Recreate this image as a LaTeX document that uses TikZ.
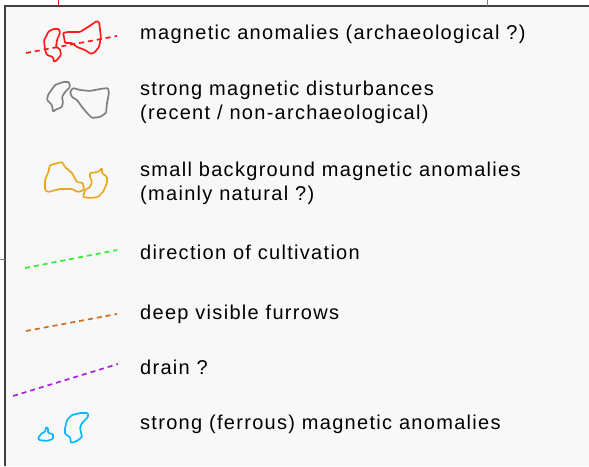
\documentclass[tikz,border=0pt]{standalone}
\usepackage{fontspec}
\setmainfont{Liberation Sans}[LetterSpace=6.5]
\tikzset{
  legtext/.style={anchor=base west, inner sep=0pt, font=\fontsize{20}{24}\selectfont, align=left},
  blob/.style={line width=1.7pt, line join=round, rounded corners=1pt},
  dashline/.style={line width=1.7pt, dash pattern=on 5pt off 4pt}
}
\definecolor{frame}{HTML}{404040}
\definecolor{panel}{HTML}{F8F8F8}
\definecolor{anomred}{HTML}{FF1A1A}
\definecolor{disturbgray}{HTML}{808080}
\definecolor{naturalorange}{HTML}{E8A820}
\definecolor{cultgreen}{HTML}{33EE33}
\definecolor{furrowbrown}{HTML}{CC6F22}
\definecolor{drainpurple}{HTML}{AA22DD}
\definecolor{ferrouscyan}{HTML}{00BBFF}
\begin{document}
\begin{tikzpicture}[x=1pt,y=-1pt]

% Page and legend panel
\useasboundingbox (0,0) rectangle (589,466);
\fill[white] (0,0) rectangle (589,466);
\fill[panel] (5,6) rectangle (589,466);
\draw[frame, line width=1.5pt] (5,466) -- (5,6) -- (589,6);

% Small ticks of the map outside the panel
\draw[anomred, line width=1pt] (58,0) -- (58,6);
\draw[disturbgray, line width=0.6pt] (487,0) -- (487,6);
\draw[disturbgray, line width=1pt] (0,259) -- (5,259);

% Magnetic anomalies (archaeological)
\draw[anomred, blob] (48,32) -- (53,29) -- (59,29) -- (60,33) -- (57,40) -- (56,47) -- (60,49)
  -- (61,55) -- (57,60) -- (54,62) -- (53,57) -- (47,55) -- (45,50) -- (44,40) -- (47,35) -- cycle;
\draw[anomred, blob] (63,33) -- (67,32) -- (80,32) -- (88,27) -- (97,21) -- (99,22) -- (101,37)
  -- (99,47) -- (95,52) -- (91,54) -- (85,50) -- (77,47) -- (72,43) -- (65,43) -- (64,37) -- cycle;
\draw[anomred, dashline] (26,53) -- (117,36);

% Strong magnetic disturbances
\draw[disturbgray, blob] (50,92) -- (55,85) -- (63,82) -- (69,82) -- (70,87) -- (65,92) -- (62,97)
  -- (63,102) -- (62,107) -- (55,110) -- (53,112) -- (52,105) -- (47,100) -- (48,95) -- cycle;
\draw[disturbgray, blob] (70,92) -- (73,88) -- (80,90) -- (90,91) -- (100,89) -- (108,88) -- (109,93)
  -- (107,103) -- (106,113) -- (100,117) -- (92,118) -- (87,113) -- (82,107) -- (77,100) -- (72,97) -- cycle;

% Small background anomalies
\draw[naturalorange, blob] (50,165) -- (62,162) -- (65,167) -- (72,173) -- (77,182) -- (83,183) -- (84,190)
  -- (78,192) -- (72,189) -- (60,189) -- (48,192) -- (45,190) -- (45,180) -- (48,173) -- cycle;
\draw[naturalorange, blob] (90,173) -- (98,172) -- (102,168) -- (102,173) -- (107,177) -- (107,183) -- (103,192)
  -- (98,197) -- (90,198) -- (83,197) -- (85,190) -- (90,187) -- (92,182) -- (90,177) -- cycle;

% Line symbols
\draw[cultgreen, dashline] (25,268) -- (117,250);
\draw[furrowbrown, dashline] (26,331) -- (117,314);
\draw[drainpurple, dashline] (13,396) -- (118,364);

% Strong ferrous anomalies
\draw[ferrouscyan, blob] (38,438) -- (42,433) -- (45,432) -- (46,427) -- (48,428) -- (48,433) -- (53,434)
  -- (53,439) -- (47,441) -- (39,440) -- cycle;
\draw[ferrouscyan, blob] (67,420) -- (72,415) -- (80,413) -- (88,413) -- (88,417) -- (82,423) -- (80,428)
  -- (82,437) -- (77,441) -- (71,443) -- (70,437) -- (65,434) -- (65,428) -- cycle;

% Legend texts (two-line nodes sit on their last baseline)
\node[legtext] (archaeo) at (140,39) {magnetic anomalies (archaeological ?)};
\node[legtext] (disturb) at (140,119) {strong magnetic disturbances\\(recent / non-archaeological)};
\node[legtext] (natural) at (140,200) {small background magnetic anomalies\\(mainly natural ?)};
\node[legtext] (cultiv) at (140,259) {direction of cultivation};
\node[legtext] (furrows) at (140,319) {deep visible furrows};
\node[legtext] (drain) at (140,374) {drain ?};
\node[legtext] (ferrous) at (140,429) {strong (ferrous) magnetic anomalies};

\end{tikzpicture}
\end{document}
